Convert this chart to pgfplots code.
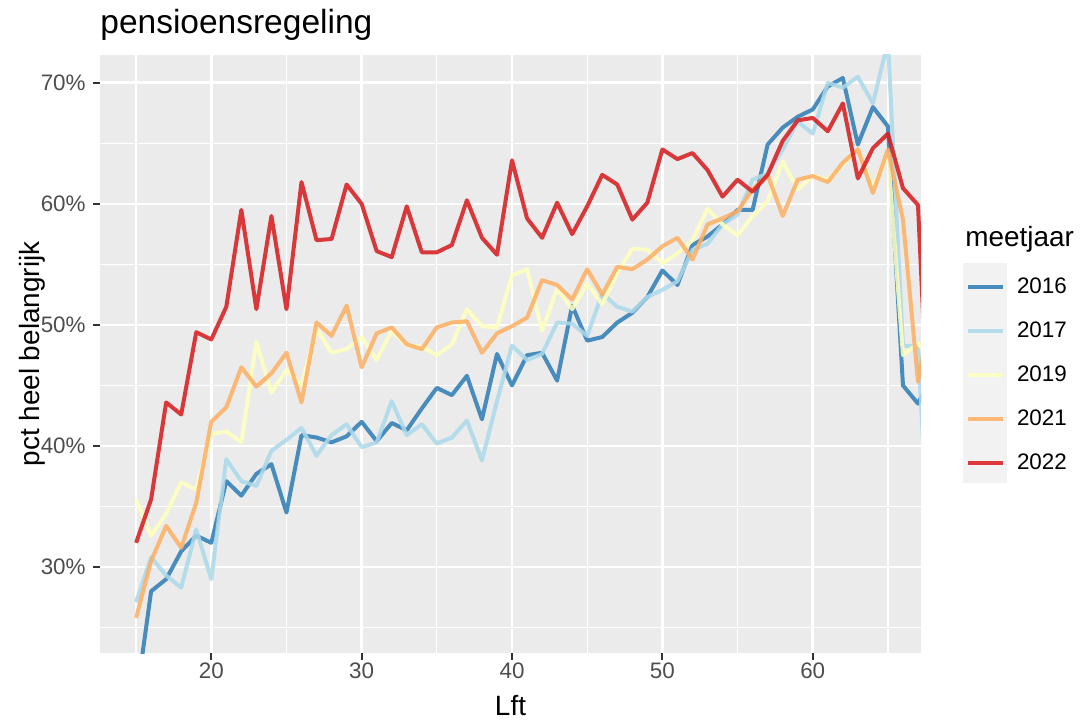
\documentclass[border=0pt]{standalone}
\usepackage{fontspec}
\setmainfont{Liberation Sans}
\usepackage{pgfplots}
\usepackage{pgfplotstable}
\pgfplotsset{compat=1.18}
\definecolor{c16}{HTML}{2C7BB6}
\definecolor{c17}{HTML}{ABD9E9}
\definecolor{c19}{HTML}{FFFFBF}
\definecolor{c21}{HTML}{FDAE61}
\definecolor{c22}{HTML}{D7191C}
\definecolor{panel}{HTML}{EBEBEB}
\definecolor{keybg}{HTML}{F2F2F2}
\definecolor{tickgray}{HTML}{4D4D4D}
\definecolor{tickmark}{HTML}{333333}
\pgfplotstableread{
age y16 y17 y19 y21 y22
15 19.0 27.1 35.6 25.8 32.0
16 28.0 30.8 32.6 30.5 35.6
17 29.0 29.3 34.4 33.4 43.6
18 31.3 28.3 37.0 31.6 42.6
19 32.6 33.1 36.4 35.3 49.4
20 32.0 29.0 41.0 42.0 48.8
21 37.1 38.9 41.2 43.2 51.5
22 35.9 37.1 40.3 46.5 59.5
23 37.7 36.7 48.6 44.9 51.3
24 38.5 39.6 44.4 46.0 59.0
25 34.5 40.5 46.3 47.7 51.3
26 40.9 41.5 45.0 43.6 61.8
27 40.7 39.2 49.7 50.2 57.0
28 40.3 40.9 47.7 49.1 57.1
29 40.8 41.8 48.0 51.6 61.6
30 42.0 39.9 49.0 46.5 60.0
31 40.4 40.3 47.1 49.3 56.1
32 41.9 43.7 49.5 49.8 55.6
33 41.3 40.9 48.3 48.4 59.8
34 43.1 41.8 48.2 48.0 56.0
35 44.8 40.2 47.5 49.8 56.0
36 44.2 40.7 48.4 50.2 56.6
37 45.8 42.1 51.3 50.3 60.3
38 42.2 38.8 49.9 47.7 57.2
39 47.6 43.7 49.8 49.3 55.8
40 45.0 48.3 54.1 49.9 63.6
41 47.5 47.1 54.6 50.6 58.8
42 47.7 47.6 49.5 53.7 57.2
43 45.4 50.2 53.0 53.3 60.1
44 51.6 50.1 51.3 52.1 57.5
45 48.7 49.1 53.4 54.6 59.8
46 49.0 52.6 51.7 52.5 62.4
47 50.2 51.5 54.3 54.8 61.6
48 51.0 51.1 56.3 54.6 58.7
49 52.3 52.3 56.2 55.4 60.1
50 54.5 52.9 55.1 56.5 64.5
51 53.3 53.6 55.9 57.2 63.7
52 56.6 56.2 57.0 55.4 64.2
53 57.3 56.7 59.6 58.3 62.8
54 58.3 58.3 58.3 58.8 60.6
55 59.5 59.1 57.4 59.4 62.0
56 59.5 62.0 59.0 61.2 61.0
57 64.9 62.5 60.2 62.4 62.4
58 66.3 64.5 63.5 59.0 65.2
59 67.2 66.8 61.2 62.0 66.9
60 67.8 65.8 62.3 62.3 67.1
61 69.7 70.0 62.0 61.8 66.0
62 70.4 69.6 63.2 63.4 68.3
63 64.9 70.5 64.5 64.5 62.1
64 68.0 68.3 61.4 60.9 64.6
65 66.4 73.4 64.2 64.5 65.8
66 45.0 48.3 47.5 58.7 61.3
67 43.5 48.2 48.5 45.3 59.9
68 46.0 25.0 47.0 52.0 33.0
}\data
\begin{document}
\begin{tikzpicture}[x=1pt,y=1pt]
\useasboundingbox (-50,-34.5) rectangle (492.5,326.5);
\fill[keybg] (431.5,85) rectangle (453.5,195);
\begin{axis}[
  at={(0pt,0pt)}, anchor=south west,
  scale only axis, width=410.5pt, height=299pt,
  xmin=12.6, xmax=67.2, ymin=22.9, ymax=72.3,
  axis background/.style={fill=panel},
  axis line style={draw=none},
  xtick={20,30,40,50,60}, xticklabels={20,30,40,50,60},
  minor xtick={15,25,35,45,55,65},
  ytick={30,40,50,60,70}, yticklabels={30\%,40\%,50\%,60\%,70\%},
  minor ytick={25,35,45,55,65},
  grid=both,
  major grid style={white, line width=1.35pt},
  minor grid style={white, line width=0.67pt},
  tick align=outside, major tick length=3.5pt, minor tick length=0pt,
  tick style={tickmark, line width=1.1pt},
  xtick pos=left, ytick pos=left,
  xticklabel style={font=\fontsize{11.2}{13}\selectfont, text=tickgray, inner sep=0pt, anchor=north, yshift=-1pt},
  yticklabel style={font=\fontsize{11.2}{13}\selectfont, text=tickgray, inner sep=0pt, anchor=east, xshift=-3.5pt},
  legend style={draw=none, fill=none, inner sep=0pt, outer sep=0pt,
    at={(rel axis cs:1.0548,0.64097)}, anchor=north west,
    font=\fontsize{11.2}{13}\selectfont,
    row sep=0pt, column sep=6pt,
    nodes={inner sep=0pt, text height=12pt, text depth=10pt}},
  legend cell align=left,
  legend image code/.code={\path[draw=none,fill=none] (0pt,0pt) -- (17.5pt,0pt); \draw[#1] (0pt,2.5pt) -- (17.5pt,2.5pt);},
  every axis plot/.append style={line width=2pt, opacity=0.85, line join=round},
]
\addplot[c16] table[x=age,y=y16] {\data};
\addplot[c17] table[x=age,y=y17] {\data};
\addplot[c19] table[x=age,y=y19] {\data};
\addplot[c21] table[x=age,y=y21] {\data};
\addplot[c22] table[x=age,y=y22] {\data};
\legend{2016,2017,2019,2021,2022}
\end{axis}
\node[anchor=base west, font=\fontsize{16.75}{20}\selectfont, inner sep=0pt] at (0,309.5) {pensioensregeling};
\node[anchor=base, font=\fontsize{13.95}{16}\selectfont, inner sep=0pt] at (205.25,-31) {Lft};
\node[anchor=base, rotate=90, font=\fontsize{13.95}{16}\selectfont, inner sep=0pt] at (-30,149.5) {pct heel belangrijk};
\node[anchor=base west, font=\fontsize{13.95}{16}\selectfont, inner sep=0pt] at (432.5,203) {meetjaar};
\end{tikzpicture}
\end{document}
